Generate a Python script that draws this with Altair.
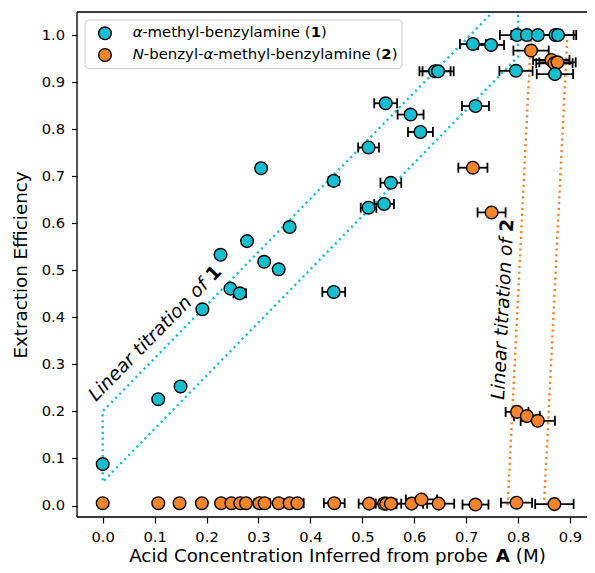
import altair as alt
import pandas as pd

# ---------------- data ----------------
# series 1: alpha-methyl-benzylamine (cyan)
s1_x = [0.000, 0.107, 0.150, 0.192, 0.227, 0.278, 0.246, 0.264, 0.311, 0.339, 0.360, 0.445,
        0.305, 0.445, 0.545, 0.593, 0.612, 0.512, 0.555, 0.512, 0.542, 0.713, 0.748, 0.640,
        0.646, 0.718, 0.796, 0.798, 0.817, 0.838, 0.872, 0.877, 0.871]
s1_y = [0.088, 0.226, 0.253, 0.417, 0.533, 0.562, 0.461, 0.451, 0.518, 0.502, 0.592, 0.454,
        0.717, 0.690, 0.855, 0.831, 0.794, 0.761, 0.686, 0.633, 0.641, 0.981, 0.979, 0.923,
        0.923, 0.849, 0.924, 1.000, 1.000, 1.000, 1.000, 1.000, 0.917]
s1_err = [0.0, 0.0, 0.0, 0.003, 0.004, 0.004, 0.006, 0.012, 0.008, 0.008, 0.008, 0.022,
          0.003, 0.010, 0.022, 0.025, 0.024, 0.020, 0.020, 0.015, 0.019, 0.025, 0.025, 0.030,
          0.030, 0.026, 0.032, 0.033, 0.030, 0.030, 0.035, 0.035, 0.035]

# series 2: N-benzyl-alpha-methyl-benzylamine (orange)
s2_x = [0.000, 0.107, 0.148, 0.191, 0.228, 0.248, 0.265, 0.276, 0.302, 0.312, 0.339, 0.360,
        0.375, 0.446, 0.513, 0.542, 0.546, 0.555, 0.595, 0.614, 0.647, 0.718, 0.797, 0.870,
        0.713, 0.749, 0.798, 0.817, 0.838, 0.825, 0.864, 0.870, 0.876]
s2_y = [0.005, 0.005, 0.005, 0.005, 0.005, 0.005, 0.005, 0.005, 0.005, 0.005, 0.005, 0.005,
        0.005, 0.005, 0.004, 0.004, 0.004, 0.004, 0.004, 0.013, 0.004, 0.002, 0.006, 0.003,
        0.718, 0.623, 0.199, 0.190, 0.180, 0.967, 0.947, 0.940, 0.942]
s2_err = [0.0, 0.0, 0.0, 0.003, 0.004, 0.004, 0.004, 0.004, 0.010, 0.010, 0.008, 0.010,
          0.012, 0.020, 0.020, 0.020, 0.020, 0.020, 0.030, 0.030, 0.030, 0.025, 0.030, 0.037,
          0.028, 0.027, 0.022, 0.025, 0.033, 0.034, 0.035, 0.035, 0.035]

# guide lines
cyan_path_x = [0.800, 0.000, 0.000, 0.800, 0.800]
cyan_path_y = [1.104, 0.200, 0.050, 0.954, 1.100]
orange_l_x = [0.780, 0.825]
orange_l_y = [0.000, 1.000]
orange_r_x = [0.850, 0.895]
orange_r_y = [0.000, 1.000]

x_ticks = [0.0, 0.1, 0.2, 0.3, 0.4, 0.5, 0.6, 0.7, 0.8, 0.9]
y_ticks = [0.0, 0.1, 0.2, 0.3, 0.4, 0.5, 0.6, 0.7, 0.8, 0.9, 1.0]

legend_rows = [
    [("α", "italic"), ("-methyl-benzylamine (", "normal"), ("1", "bold"), (")", "normal")],
    [("N", "italic"), ("-benzyl-", "normal"), ("α", "italic"),
     ("-methyl-benzylamine (", "normal"), ("2", "bold"), (")", "normal")],
]
x_title = [("Acid Concentration Inferred from probe ", "normal"), ("A", "bold"), (" (M)", "normal")]
y_title = "Extraction Efficiency"
note1 = ("Linear titration of ", "1")
note2 = ("Linear titration of ", "2")

CYAN = "#17becf"
ORANGE = "#f5852a"
FONT = "DejaVu Sans"

# ---------------- layout ----------------
PL, PT = 69, 4
W, H = 579 - PL, 505
PB = 557 - PT - H
PXU_X = 519.2          # pixels per data unit along x
X0 = -0.0495
X1 = X0 + W / PXU_X
Y0, Y1 = -0.0244, 1.049

def xd(page_px):
    return X0 + (page_px - 8 - PL) / PXU_X

def yd(page_py):
    return Y1 - (page_py - 8 - PT) / H * (Y1 - Y0)

# DejaVu Sans advance widths (units / 2048)
REG = {" ": 651, "(": 799, ")": 799, "-": 739, ".": 651, "A": 1401, "C": 1430, "E": 1294,
       "I": 604, "L": 1141, "M": 1767, "N": 1532, "a": 1255, "b": 1300, "c": 1126, "d": 1300,
       "e": 1260, "f": 721, "h": 1298, "i": 569, "l": 569, "m": 1995, "n": 1298, "o": 1253,
       "p": 1300, "r": 842, "t": 803, "y": 1212, "z": 1075, "x": 1212, "α": 1300}
BOLD = {"1": 1425, "2": 1425, "A": 1586}

def tw(s, size, style):
    tab = BOLD if style == "bold" else REG
    return sum(tab.get(c, REG.get(c, 1300)) for c in s) / 2048.0 * size

LEG_FS = 14.9
TITLE_FS = 18.3
NOTE_FS = 18.6

frag_rows = []
leg_y = [33.3, 55.0]
for r, row in enumerate(legend_rows):
    cx = 132.7
    for txt, st in row:
        frag_rows.append({"x": xd(cx), "y": yd(leg_y[r]), "t": txt, "st": st, "kind": "legend"})
        cx += tw(txt, LEG_FS, st)
total = sum(tw(t, TITLE_FS, s) for t, s in x_title)
cx = 337.5 - total / 2
for txt, st in x_title:
    lead = len(txt) - len(txt.lstrip(" "))
    frag_rows.append({"x": xd(cx + tw(" " * lead, TITLE_FS, st)), "y": yd(562),
                      "t": txt.strip(" "), "st": st, "kind": "title"})
    cx += tw(txt, TITLE_FS, st)
frags = pd.DataFrame(frag_rows)

d1 = pd.DataFrame({"x": s1_x, "y": s1_y, "err": s1_err})
d2 = pd.DataFrame({"x": s2_x, "y": s2_y, "err": s2_err})
for d in (d1, d2):
    d["lo"] = d["x"] - d["err"]
    d["hi"] = d["x"] + d["err"]

xs = alt.Scale(domain=[X0, X1], nice=False, zero=False)
ys = alt.Scale(domain=[Y0, Y1], nice=False, zero=False)
xax = alt.Axis(values=x_ticks, format=".1f", title=None, grid=False, domain=False,
               labelFontSize=14.7, labelColor="black", tickColor="black", tickSize=6,
               tickWidth=1.2, labelPadding=6, labelFont=FONT)
yax = alt.Axis(values=y_ticks, format=".1f", title=y_title, grid=False, domain=False,
               labelFontSize=14.7, labelColor="black", tickColor="black", tickSize=5.5,
               tickWidth=1.2, labelPadding=7, labelFont=FONT, titleFont=FONT,
               titleFontSize=TITLE_FS, titleFontWeight="normal", titleColor="black",
               titlePadding=11)

def X(f="x"):
    return alt.X(f"{f}:Q", scale=xs, axis=xax)

def Y(f="y"):
    return alt.Y(f"{f}:Q", scale=ys, axis=yax)

# frame: left, top and bottom spines (right spine lies outside the picture)
frame_l = alt.Chart().mark_rule(color="black", strokeWidth=1.3).encode(
    x=alt.value(0), y=alt.value(0), y2=alt.value(H))
frame_t = alt.Chart().mark_rule(color="black", strokeWidth=1.3).encode(
    x=alt.value(0), x2=alt.value(W), y=alt.value(0))
frame_b = alt.Chart().mark_rule(color="black", strokeWidth=1.3).encode(
    x=alt.value(0), x2=alt.value(W), y=alt.value(H))

dot = dict(strokeDash=[2.2, 3.6], strokeWidth=2.4, clip=True, strokeCap="butt")
cyan_line = alt.Chart(pd.DataFrame({"x": cyan_path_x, "y": cyan_path_y,
                                    "o": list(range(len(cyan_path_x)))})).mark_line(
    color=CYAN, **dot).encode(x=X(), y=Y(), order="o:Q")
orange_df = pd.DataFrame({"x": orange_l_x + orange_r_x, "y": orange_l_y + orange_r_y,
                          "g": ["l", "l", "r", "r"], "o": [0, 1, 0, 1]})
orange_line = alt.Chart(orange_df).mark_line(color=ORANGE, **dot).encode(
    x=X(), y=Y(), detail="g:N", order="o:Q")

def series(d, col):
    db = d[d["err"] > 0]
    bars = alt.Chart(db).mark_rule(color="black", strokeWidth=1.8).encode(
        x=X("lo"), x2="hi:Q", y=Y())
    capl = alt.Chart(db).mark_tick(color="black", orient="vertical", size=10,
                                   thickness=1.8, opacity=1).encode(x=X("lo"), y=Y())
    capr = alt.Chart(db).mark_tick(color="black", orient="vertical", size=10,
                                   thickness=1.8, opacity=1).encode(x=X("hi"), y=Y())
    pts = alt.Chart(d).mark_circle(size=160, fill=col, fillOpacity=1, stroke="black",
                                   strokeWidth=1.4, opacity=1).encode(x=X(), y=Y())
    return bars, capl, capr, pts

b1, l1, r1, p1 = series(d1, CYAN)
b2, l2, r2, p2 = series(d2, ORANGE)

# annotations (rotated along the guide lines)
n1x, n1y = xd(96), yd(402)
n2x, n2y = xd(504), yd(400)
ann = pd.DataFrame({"x": [n1x, n2x], "y": [n1y, n2y], "a": [note1[0].strip(), note2[0].strip()],
                    "b": [note1[1], note2[1]]})
off = tw(note1[0], NOTE_FS, "normal")
A1, A2 = 314.4, 273.0
ann1a = alt.Chart(ann.iloc[[0]]).mark_text(font=FONT, fontSize=NOTE_FS, fontStyle="italic",
                                           angle=A1, align="left", baseline="alphabetic",
                                           color="black").encode(x=X(), y=Y(), text="a:N")
ann1b = alt.Chart(ann.iloc[[0]]).mark_text(font=FONT, fontSize=NOTE_FS, fontWeight="bold",
                                           angle=A1, align="left", baseline="alphabetic",
                                           dx=off, color="black").encode(x=X(), y=Y(), text="b:N")
ann2a = alt.Chart(ann.iloc[[1]]).mark_text(font=FONT, fontSize=NOTE_FS, fontStyle="italic",
                                           angle=A2, align="left", baseline="alphabetic",
                                           color="black").encode(x=X(), y=Y(), text="a:N")
ann2b = alt.Chart(ann.iloc[[1]]).mark_text(font=FONT, fontSize=NOTE_FS, fontWeight="bold",
                                           angle=A2, align="left", baseline="alphabetic",
                                           dx=off, color="black").encode(x=X(), y=Y(), text="b:N")

# legend
leg_box = alt.Chart(pd.DataFrame({"x": [xd(85)], "x2": [xd(402)], "y": [yd(20)],
                                  "y2": [yd(68.5)]})).mark_rect(
    fill="white", fillOpacity=0.85, stroke="#cccccc", strokeWidth=1, cornerRadius=4).encode(
    x=X(), x2="x2:Q", y=Y(), y2="y2:Q")
leg_pts = alt.Chart(pd.DataFrame({"x": [xd(105), xd(105)], "y": [yd(33.3), yd(55.0)],
                                  "c": ["1", "2"]})).mark_circle(
    size=160, fillOpacity=1, stroke="black", strokeWidth=1.4, opacity=1).encode(
    x=X(), y=Y(), fill=alt.Fill("c:N", scale=alt.Scale(domain=["1", "2"], range=[CYAN, ORANGE]),
                                legend=None))

def frag_layer(kind, st, size, baseline):
    sub = frags[(frags["kind"] == kind) & (frags["st"] == st)]
    kw = {}
    if st == "bold":
        kw["fontWeight"] = "bold"
    if st == "italic":
        kw["fontStyle"] = "italic"
    return alt.Chart(sub).mark_text(font=FONT, fontSize=size, align="left", baseline=baseline,
                                    color="black", **kw).encode(x=X(), y=Y(), text="t:N")

leg_txt = [frag_layer("legend", s, LEG_FS, "middle") for s in ("normal", "italic", "bold")]
ttl_txt = [frag_layer("title", s, TITLE_FS, "alphabetic") for s in ("normal", "bold")]

chart = alt.layer(
    cyan_line, orange_line, b1, l1, r1, b2, l2, r2, p2, p1,
    ann1a, ann1b, ann2a, ann2b, leg_box, leg_pts, *leg_txt, *ttl_txt,
    frame_l, frame_t, frame_b
).properties(
    width=W, height=H, autosize="none",
    padding={"left": PL, "top": PT, "right": 0, "bottom": PB},
).configure_view(stroke=None).configure(font=FONT)

chart.save("out.html", embed_options={"renderer": "svg", "actions": False})
